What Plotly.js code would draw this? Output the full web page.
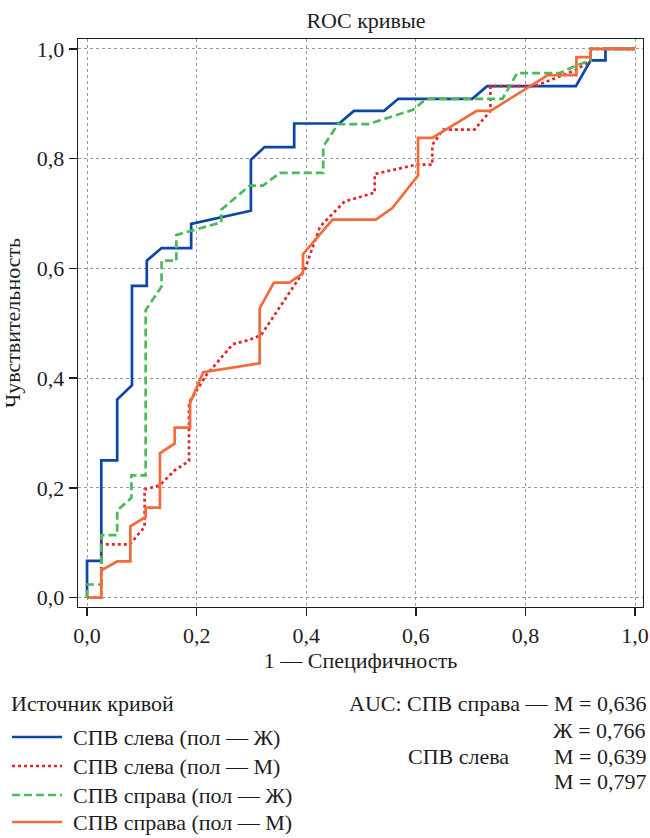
<!DOCTYPE html>
<html>
<head>
<meta charset="utf-8">
<script src="https://cdn.plot.ly/plotly-3.0.1.min.js"></script>
<style>html,body{margin:0;padding:0;background:#fff;}#chart{width:650px;height:838px;}</style>
</head>
<body>
<div id="chart"></div>
<script>
// ---- Data ----
var seriesNames = ['СПВ слева (пол — Ж)', 'СПВ слева (пол — М)', 'СПВ справа (пол — Ж)', 'СПВ справа (пол — М)'];

var leftF_x = [0,0,0.026,0.026,0.055,0.055,0.082,0.082,0.109,0.109,0.136,0.19,0.19,0.299,0.299,0.324,0.378,0.378,0.46,0.487,0.542,0.568,0.703,0.730,0.892,0.919,0.946,0.946,1.0];
var leftF_y = [0,0.067,0.067,0.25,0.25,0.361,0.387,0.568,0.568,0.614,0.637,0.637,0.681,0.705,0.798,0.821,0.821,0.864,0.864,0.887,0.887,0.909,0.909,0.932,0.932,0.979,0.979,1.0,1.0];

var leftM_x = [0,0.026,0.026,0.078,0.105,0.105,0.133,0.160,0.186,0.186,0.19,0.218,0.266,0.297,0.318,0.397,0.425,0.470,0.525,0.525,0.601,0.630,0.630,0.650,0.707,0.736,0.736,0.817,0.893,0.919,0.919,1.0];
var leftM_y = [0,0,0.097,0.097,0.129,0.197,0.205,0.232,0.249,0.355,0.362,0.406,0.462,0.470,0.479,0.597,0.676,0.722,0.738,0.772,0.789,0.789,0.825,0.853,0.853,0.887,0.932,0.932,0.962,0.979,1.0,1.0];

var rightF_x = [0,0,0.026,0.026,0.055,0.055,0.081,0.081,0.107,0.107,0.136,0.136,0.163,0.163,0.245,0.245,0.297,0.321,0.352,0.431,0.431,0.458,0.513,0.595,0.619,0.758,0.785,0.863,0.893,0.919,0.919,1.0];
var rightF_y = [0,0.024,0.024,0.114,0.114,0.159,0.182,0.223,0.223,0.524,0.567,0.614,0.614,0.661,0.684,0.707,0.751,0.751,0.774,0.774,0.822,0.863,0.863,0.889,0.909,0.909,0.956,0.956,0.970,0.979,1.0,1.0];

var rightM_x = [0,0.026,0.026,0.055,0.079,0.079,0.107,0.107,0.133,0.133,0.160,0.160,0.188,0.188,0.212,0.315,0.315,0.341,0.369,0.394,0.394,0.448,0.527,0.557,0.604,0.604,0.630,0.711,0.736,0.841,0.893,0.893,0.919,0.919,1.0];
var rightM_y = [0,0,0.050,0.066,0.066,0.130,0.147,0.164,0.164,0.263,0.281,0.310,0.310,0.355,0.411,0.427,0.527,0.574,0.574,0.591,0.626,0.689,0.689,0.710,0.769,0.838,0.838,0.887,0.887,0.952,0.952,0.985,0.985,1.0,1.0];

var tickVals = [0, 0.2, 0.4, 0.6, 0.8, 1.0];
var tickText = ['0,0', '0,2', '0,4', '0,6', '0,8', '1,0'];

var legendTitle = 'Источник кривой';
var aucHeader = 'AUC: СПВ справа —';
var aucGroupLeft = 'СПВ слева';
var aucValues = ['М = 0,636', 'Ж = 0,766', 'М = 0,639', 'М = 0,797'];

// ---- Styles ----
var FONT = 'Liberation Serif, Times New Roman, serif';
var FS = 22;
var TXT = '#1e1e1e';
var colors = ['#0b47a6', '#e8232d', '#4cb95a', '#f26b3a'];
var dashes = ['solid', 'dot', '8px,4px', 'solid'];
var LW = 2.7;

var W = 650, H = 838, ML = 78, MR = 7, MT = 39, MB = 231;
var PW = W - ML - MR, PH = H - MT - MB;
function px2x(px) { return (px - ML) / PW; }
function px2y(py) { return (H - MB - py) / PH; }

var xs = [leftF_x, leftM_x, rightF_x, rightM_x];
var ys = [leftF_y, leftM_y, rightF_y, rightM_y];

var traces = [];
for (var i = 0; i < 4; i++) {
  traces.push({
    type: 'scatter', mode: 'lines',
    x: xs[i], y: ys[i], name: seriesNames[i],
    line: {color: colors[i], width: LW, dash: dashes[i]},
    hoverinfo: 'skip', showlegend: false
  });
}

function fnt() { return {family: FONT, size: FS, color: TXT}; }

var axisCommon = {
  tickvals: tickVals, ticktext: tickText,
  ticks: 'outside', ticklen: 8, tickwidth: 1.3, tickcolor: TXT,
  showline: true, linecolor: TXT, linewidth: 1.3, mirror: true,
  showgrid: true, gridcolor: '#9a9a9a', gridwidth: 1, griddash: 'dot',
  zeroline: false, automargin: false,
  tickfont: fnt()
};

// ---- Manual legend + AUC block (layout positions) ----
var annotations = [];
var shapes = [];
annotations.push({xref: 'paper', yref: 'paper', x: px2x(10), y: px2y(703), xanchor: 'left', yanchor: 'middle', text: legendTitle, showarrow: false, borderpad: 0, font: fnt()});
var legendRows = [737, 766, 795, 822];
for (var k = 0; k < 4; k++) {
  shapes.push({type: 'line', xref: 'paper', yref: 'paper', x0: px2x(12), x1: px2x(62), y0: px2y(legendRows[k]), y1: px2y(legendRows[k]),
    line: {color: colors[k], width: LW, dash: dashes[k]}});
  annotations.push({xref: 'paper', yref: 'paper', x: px2x(72), y: px2y(legendRows[k]), xanchor: 'left', yanchor: 'middle', text: seriesNames[k], showarrow: false, borderpad: 0, font: fnt()});
}
var aucRows = [703, 730, 756, 781];
annotations.push({xref: 'paper', yref: 'paper', x: px2x(549), y: px2y(aucRows[0]), xanchor: 'right', yanchor: 'middle', text: aucHeader, showarrow: false, borderpad: 0, font: fnt()});
annotations.push({xref: 'paper', yref: 'paper', x: px2x(407), y: px2y(aucRows[2]), xanchor: 'left', yanchor: 'middle', text: aucGroupLeft, showarrow: false, borderpad: 0, font: fnt()});
for (var j = 0; j < 4; j++) {
  annotations.push({xref: 'paper', yref: 'paper', x: px2x(647), y: px2y(aucRows[j]), xanchor: 'right', yanchor: 'middle', text: aucValues[j], showarrow: false, borderpad: 0, font: fnt()});
}

var layout = {
  width: W, height: H,
  margin: {l: ML, r: MR, t: MT, b: MB},
  paper_bgcolor: '#fff', plot_bgcolor: '#fff',
  font: fnt(),
  showlegend: false,
  title: {text: 'ROC кривые', x: px2x(366), xref: 'paper', xanchor: 'center', y: 1 - 20 / H, yref: 'container', yanchor: 'middle', font: fnt()},
  xaxis: Object.assign({}, axisCommon, {
    range: [-0.0165, 1.0145],
    title: {text: '1 — Специфичность', standoff: 4, font: fnt()}
  }),
  yaxis: Object.assign({}, axisCommon, {
    range: [-0.0170, 1.0180],
    title: {text: 'Чувствительность', standoff: 10, font: fnt()}
  }),
  annotations: annotations,
  shapes: shapes
};

Plotly.newPlot('chart', traces, layout, {displayModeBar: false, staticPlot: true});
</script>
</body>
</html>
